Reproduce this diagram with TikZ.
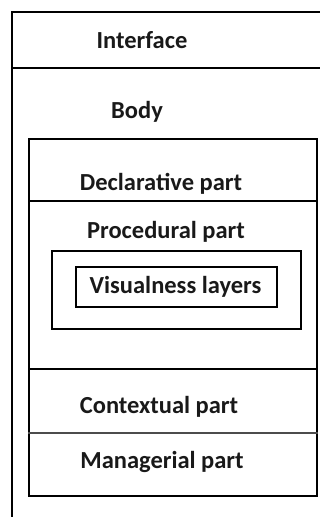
\documentclass[tikz,border=0pt]{standalone}
\usepackage{fontspec}
\setmainfont{Carlito}
\begin{document}
\begin{tikzpicture}[x=1pt,y=-1pt,
  frame/.style={draw=black, line width=2.4pt},
  thinrule/.style={draw=black!70, line width=1.2pt},
  boxnode/.style={frame, anchor=north west, inner sep=0pt},
  lbl/.style={font=\bfseries\fontsize{24.5}{28}\selectfont, inner sep=0pt, anchor=base, text=black!90}]
\useasboundingbox (0,0) rectangle (320,517);

% outer module frame, running past the page edge
\begin{scope}
  \clip (0,0) rectangle (320,517);
  \draw[frame] (12,12) rectangle (340,540);
  \draw[frame] (12,68) -- (340,68);
\end{scope}

% body container and its parts
\node[boxnode, minimum width=288pt, minimum height=357pt] (body) at (28,138) {};
\draw[frame] (body.west |- 0,201) -- (body.east |- 0,201);
\draw[frame] (body.west |- 0,369) -- (body.east |- 0,369);
\draw[thinrule] (body.west |- 0,433) -- (body.east |- 0,433);

% procedural part with nested visualness layers
\node[boxnode, minimum width=249pt, minimum height=78pt] (proc) at (51,250) {};
\node[boxnode, minimum width=201pt, minimum height=40pt] (vis) at (75,266) {};

% labels
\node[lbl] (interface) at (142,48) {Interface};
\node[lbl] (bodylbl) at (137,118) {Body};
\node[lbl] (decl) at (161,190) {Declarative part};
\node[lbl] (proclbl) at (166,238) {Procedural part};
\node[lbl] (vislbl) at (175.5,293) {Visualness layers};
\node[lbl] (ctx) at (159,413) {Contextual part};
\node[lbl] (mgr) at (162,468) {Managerial part};
\end{tikzpicture}
\end{document}
